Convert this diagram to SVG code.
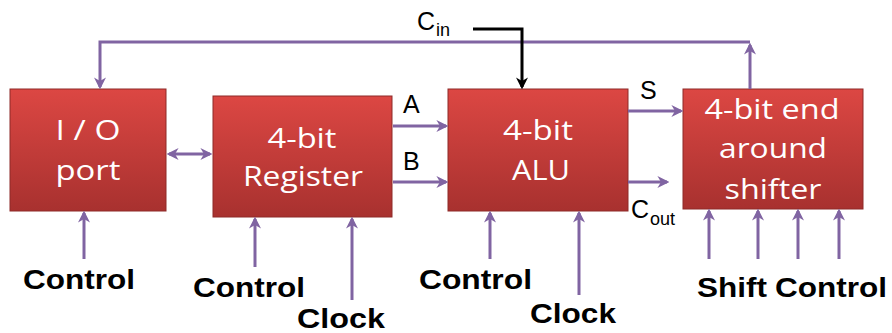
<svg xmlns="http://www.w3.org/2000/svg" width="892" height="333" viewBox="0 0 892 333">
<defs>
<linearGradient id="red" x1="0" y1="0" x2="0" y2="1">
<stop offset="0" stop-color="#dc4743"/>
<stop offset="1" stop-color="#a8312f"/>
</linearGradient>
<marker id="ah" viewBox="0 0 10 10" refX="8" refY="5" markerWidth="4" markerHeight="4" orient="auto-start-reverse" markerUnits="strokeWidth">
<path d="M0,0 L10,5 L0,10 L3,5 Z" fill="#8064a2"/>
</marker>
<marker id="ahk" viewBox="0 0 10 10" refX="8" refY="5" markerWidth="4" markerHeight="4" orient="auto" markerUnits="strokeWidth">
<path d="M0,0 L10,5 L0,10 L3,5 Z" fill="#000"/>
</marker>
</defs>
<style>
.box{fill:url(#red);stroke:#8e2a28;stroke-width:1}
.bt{font-family:"Open Sans","Liberation Sans",sans-serif;font-size:27px;font-weight:500;fill:#fff;text-anchor:middle}
.w{stroke:#8064a2;stroke-width:3;fill:none}
.a{marker-end:url(#ah)}
.lb{font-family:"Liberation Sans",Arial,sans-serif;font-weight:bold;font-size:27px;fill:#000}
.sig{font-family:"Liberation Sans",Arial,sans-serif;font-size:25px;fill:#000}
.sub{font-family:"Liberation Sans",Arial,sans-serif;font-size:18px;fill:#000}
</style>
<g id="io">
<rect class="box" x="10" y="89" width="156" height="122"/>
<text class="bt" x="88" y="140" textLength="65" lengthAdjust="spacingAndGlyphs">I / O</text>
<text class="bt" x="88" y="180" textLength="65" lengthAdjust="spacingAndGlyphs">port</text>
</g>
<g id="register">
<rect class="box" x="213" y="96" width="179" height="121"/>
<text class="bt" x="302" y="148" textLength="69" lengthAdjust="spacingAndGlyphs">4-bit</text>
<text class="bt" x="303" y="186" textLength="120" lengthAdjust="spacingAndGlyphs">Register</text>
</g>
<g id="alu">
<rect class="box" x="448" y="89" width="180" height="122"/>
<text class="bt" x="538" y="140" textLength="70" lengthAdjust="spacingAndGlyphs">4-bit</text>
<text class="bt" x="541" y="180" textLength="58" lengthAdjust="spacingAndGlyphs">ALU</text>
</g>
<g id="shifter">
<rect class="box" x="683" y="89" width="180" height="120"/>
<text class="bt" x="772" y="119" textLength="135" lengthAdjust="spacingAndGlyphs">4-bit end</text>
<text class="bt" x="773" y="158" textLength="108" lengthAdjust="spacingAndGlyphs">around</text>
<text class="bt" x="773" y="199" textLength="97" lengthAdjust="spacingAndGlyphs">shifter</text>
</g>
<g id="connectors">
<path class="w" d="M750,42 H100 V87" marker-end="url(#ah)"/>
<path class="w a" d="M750,89 V45"/>
<path class="w" d="M169,154 H210" marker-start="url(#ah)" marker-end="url(#ah)"/>
<path class="w a" d="M393,126 H446"/>
<path class="w a" d="M393,182 H446"/>
<path class="w a" d="M628,111 H681"/>
<path class="w a" d="M628,182 H667"/>
<path d="M473,29 H522 V87" fill="none" stroke="#000" stroke-width="3" marker-end="url(#ahk)"/>
<path class="w a" d="M84,259 V213"/>
<path class="w a" d="M255,267 V219"/>
<path class="w a" d="M352,300 V219"/>
<path class="w a" d="M490,259 V213"/>
<path class="w a" d="M579,295 V213"/>
<path class="w a" d="M709,259 V211"/>
<path class="w a" d="M758,259 V211"/>
<path class="w a" d="M798,259 V211"/>
<path class="w a" d="M839,259 V211"/>
</g>
<g id="labels">
<text class="sig" x="403" y="113">A</text>
<text class="sig" x="403" y="170">B</text>
<text class="sig" x="640" y="99">S</text>
<text class="sig" x="417" y="30" font-size="27">C</text>
<text class="sub" x="436" y="36">in</text>
<text class="sig" x="631" y="218" font-size="26">C</text>
<text class="sub" x="650" y="225">out</text>
<text class="lb" x="23" y="289" textLength="112" lengthAdjust="spacingAndGlyphs">Control</text>
<text class="lb" x="193" y="297" textLength="112" lengthAdjust="spacingAndGlyphs">Control</text>
<text class="lb" x="297" y="328" textLength="88" lengthAdjust="spacingAndGlyphs">Clock</text>
<text class="lb" x="419" y="289" textLength="113" lengthAdjust="spacingAndGlyphs">Control</text>
<text class="lb" x="530" y="323" textLength="86" lengthAdjust="spacingAndGlyphs">Clock</text>
<text class="lb" x="697" y="297" textLength="70" lengthAdjust="spacingAndGlyphs">Shift</text>
<text class="lb" x="775" y="297" textLength="112" lengthAdjust="spacingAndGlyphs">Control</text>
</g>
</svg>
